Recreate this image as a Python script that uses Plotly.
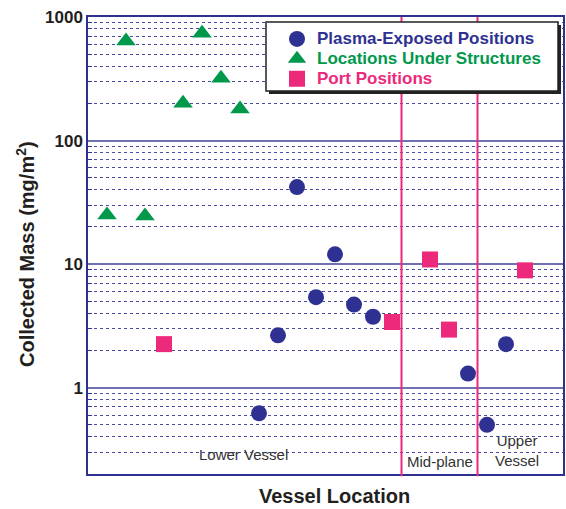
import plotly.graph_objects as go
import numpy as np

# Data (position index along vessel, collected mass mg/m^2)
plasma_x = [9, 10, 11, 12, 13, 14, 15, 20, 21, 22]
plasma_y = [0.62, 2.65, 42, 5.4, 12.0, 4.7, 3.75, 1.3, 0.5, 2.25]

under_x = [1, 2, 3, 5, 6, 7, 8]
under_y = [25, 640, 24.5, 200, 740, 320, 180]

port_x = [4, 16, 18, 19, 23]
port_y = [2.25, 3.4, 10.9, 2.95, 8.9]

region_dividers = [16.5, 20.5]
region_labels = ["Lower Vessel", "Mid-plane", "Upper<br>Vessel"]
region_label_x = [8.2, 18.5, 22.6]

y_major = [1, 10, 100, 1000]
y_minor = [m * 10.0**d for d in range(-1, 3) for m in range(2, 10)]

BLUE = "#2E3192"
GREEN = "#00994C"
PINK = "#EC297B"

W, H = 566, 509
ML, MR, MT, MB = 88, 3, 17, 35
PW, PH = W - ML - MR, H - MT - MB

def px(x):
    return (x - ML) / PW

def py(y):
    return 1 - (y - MT) / PH

def lname(txt, col):
    return f"<span style='color:{col};font-size:17px'><b>{txt}</b></span>"

fig = go.Figure()
fig.add_trace(go.Scatter(
    x=plasma_x, y=plasma_y, mode="markers",
    name=lname("Plasma-Exposed Positions", BLUE),
    marker=dict(symbol="circle", size=16, color=BLUE)))
fig.add_trace(go.Scatter(
    x=under_x, y=under_y, mode="markers",
    name=lname("Locations Under Structures", GREEN),
    marker=dict(symbol="triangle-up", size=17, color=GREEN)))
fig.add_trace(go.Scatter(
    x=port_x, y=port_y, mode="markers",
    name=lname("Port Positions", PINK),
    marker=dict(symbol="square", size=16, color=PINK)))

shapes = []
for xd in region_dividers:
    shapes.append(dict(type="line", xref="x", yref="paper", x0=xd, x1=xd,
                       y0=-0.005, y1=1, line=dict(color=PINK, width=2), layer="above"))
# legend shadow and box
shapes.append(dict(type="rect", xref="paper", yref="paper",
                   x0=px(269), x1=px(561), y0=py(94), y1=py(25),
                   fillcolor="#222222", line=dict(width=0), layer="above"))
shapes.append(dict(type="rect", xref="paper", yref="paper",
                   x0=px(266), x1=px(558), y0=py(91), y1=py(22),
                   fillcolor="white", line=dict(color="#222222", width=1.5), layer="above"))

annotations = []
for lbl, lx, ly in zip(region_labels, region_label_x, [454, 461, 450]):
    annotations.append(dict(x=lx, xref="x", y=py(ly), yref="paper", text=lbl,
                            showarrow=False, font=dict(size=15, color="#333333",
                            family="Liberation Sans, Arial, sans-serif"),
                            xanchor="center", yanchor="middle"))
annotations.append(dict(x=px(334), y=py(496), xref="paper", yref="paper",
                        text="<b>Vessel Location</b>", showarrow=False,
                        font=dict(size=20, color="#231f20",
                                  family="Liberation Sans, Arial, sans-serif"),
                        xanchor="center", yanchor="middle"))
annotations.append(dict(x=px(25), y=py(254), xref="paper", yref="paper",
                        text="<b>Collected Mass (mg/m<sup>2</sup>)</b>", showarrow=False,
                        textangle=-90,
                        font=dict(size=20, color="#231f20",
                                  family="Liberation Sans, Arial, sans-serif"),
                        xanchor="center", yanchor="middle"))

fig.update_layout(
    width=W, height=H,
    margin=dict(l=ML, r=MR, t=MT, b=MB, autoexpand=False),
    paper_bgcolor="white", plot_bgcolor="white",
    font=dict(family="Liberation Sans, Arial, sans-serif", color="#231f20"),
    showlegend=True,
    legend=dict(x=px(277), y=py(24), xanchor="left", yanchor="top",
                bgcolor="rgba(0,0,0,0)", borderwidth=0,
                font=dict(size=13, family="Liberation Sans, Arial, sans-serif"),
                itemclick=False),
    shapes=shapes,
    annotations=annotations,
)
fig.update_xaxes(range=[0, 25], showticklabels=False, ticks="", showgrid=False,
                 zeroline=False, showline=True, linecolor=BLUE, linewidth=1.5, mirror=True)
fig.update_yaxes(type="log", range=[np.log10(0.2), 3],
                 tickmode="array", tickvals=y_major, ticktext=[f"<b>{v}</b>" for v in y_major],
                 tickfont=dict(size=17, color="#231f20"),
                 ticks="", showgrid=True, gridcolor="#6f71b3", gridwidth=2,
                 zeroline=False, showline=True, linecolor=BLUE, linewidth=1.5, mirror=True,
                 minor=dict(tickmode="array", tickvals=y_minor, showgrid=True,
                            gridcolor="#4a4da6", gridwidth=1, griddash="3px,3px",
                            ticks="inside", ticklen=4, tickcolor=BLUE))

fig.write_html("out.html", config={"displayModeBar": False},
               post_script="document.body.style.margin='0';")
